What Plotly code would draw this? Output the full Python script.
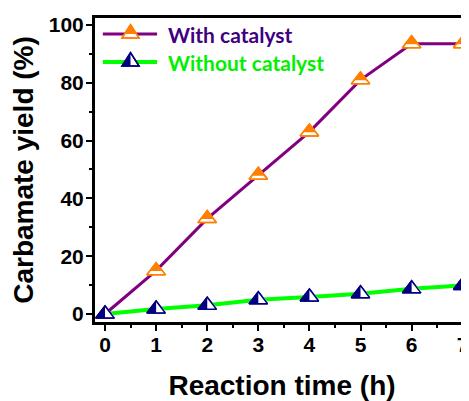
import plotly.graph_objects as go

# ---------------- data ----------------
reaction_time = [0, 1, 2, 3, 4, 5, 6, 7]
with_catalyst = [0, 15, 33, 48, 63, 81, 93.5, 93.5]
without_catalyst = [0, 1.7, 3.0, 4.9, 5.9, 7.0, 8.7, 9.9]
series_names = ["With catalyst", "Without catalyst"]
x_ticks = [0, 1, 2, 3, 4, 5, 6, 7]
y_ticks = [0, 20, 40, 60, 80, 100]

# ---------------- styles ----------------
PURPLE = "#800080"
ORANGE = "#FF8000"
GREEN = "#00FF00"
NAVY = "#000080"
S = 16.0            # marker size (plotly "diameter")
R = S / 2
LW = 1.5
BOLD = dict(family="Liberation Sans, Arial, sans-serif", color="black", weight="bold")

fig = go.Figure()

# --- With catalyst: purple line, triangles with orange top and white bottom band
fig.add_trace(go.Scatter(x=reaction_time, y=with_catalyst, mode="lines", name=series_names[0],
                         line=dict(color=PURPLE, width=3), showlegend=False, cliponaxis=False))
fig.add_trace(go.Scatter(x=reaction_time, y=with_catalyst, mode="markers", showlegend=False,
                         cliponaxis=False, hoverinfo="skip",
                         marker=dict(symbol="triangle-up", size=S, color="white",
                                     line=dict(color=ORANGE, width=LW))))
r_small = 0.7 * R
fig.add_trace(go.Scatter(x=reaction_time, y=with_catalyst, mode="markers", showlegend=False,
                         cliponaxis=False, hoverinfo="skip",
                         marker=dict(symbol="triangle-down", angle=180, standoff=R - r_small,
                                     size=2 * r_small, color=ORANGE, line=dict(width=0))))
fig.add_trace(go.Scatter(x=reaction_time, y=with_catalyst, mode="markers", showlegend=False,
                         cliponaxis=False, hoverinfo="skip",
                         marker=dict(symbol="triangle-up-open", size=S, color=ORANGE,
                                     line=dict(width=LW))))

# --- Without catalyst: green line, triangles with navy left half
fig.add_trace(go.Scatter(x=reaction_time, y=without_catalyst, mode="lines", name=series_names[1],
                         line=dict(color=GREEN, width=4), showlegend=False, cliponaxis=False))
fig.add_trace(go.Scatter(x=reaction_time, y=without_catalyst, mode="markers", showlegend=False,
                         cliponaxis=False, hoverinfo="skip",
                         marker=dict(symbol="triangle-up", size=S, color=NAVY,
                                     line=dict(color=NAVY, width=LW))))
r_cov = 1.4 * R / 1.8
fig.add_trace(go.Scatter(x=reaction_time, y=without_catalyst, mode="markers", showlegend=False,
                         cliponaxis=False, hoverinfo="skip",
                         marker=dict(symbol="triangle-nw", angle=-90, standoff=0.6 * r_cov,
                                     size=2 * r_cov, color="white", line=dict(width=0))))
fig.add_trace(go.Scatter(x=reaction_time, y=without_catalyst, mode="markers", showlegend=False,
                         cliponaxis=False, hoverinfo="skip",
                         marker=dict(symbol="triangle-up-open", size=S, color=NAVY,
                                     line=dict(width=LW))))

# ---------------- manual legend (paper coords of plot area) ----------------
leg_y = [0.947, 0.855]
leg_x0, leg_x1, leg_xm, leg_tx = 0.021, 0.166, 0.095, 0.19
line_colors = [PURPLE, GREEN]
line_widths = [3, 4]
text_colors = ["#400080", "#00F000"]
tri = "M -8.5,-4 L 8.5,-4 L 0,9.5 Z"
fills = ["M 0,9.5 L -6,0 L 6,0 Z", "M 0,9.5 L -8.5,-4 L 0,-4 Z"]
edge_colors = [ORANGE, NAVY]
for i in range(2):
    fig.add_shape(type="line", xref="paper", yref="paper", x0=leg_x0, x1=leg_x1,
                  y0=leg_y[i], y1=leg_y[i], line=dict(color=line_colors[i], width=line_widths[i]))
    fig.add_shape(type="path", xref="paper", yref="paper", xsizemode="pixel", ysizemode="pixel",
                  xanchor=leg_xm, yanchor=leg_y[i], path=tri, fillcolor="white",
                  line=dict(color=edge_colors[i], width=LW))
    fig.add_shape(type="path", xref="paper", yref="paper", xsizemode="pixel", ysizemode="pixel",
                  xanchor=leg_xm, yanchor=leg_y[i], path=fills[i], fillcolor=edge_colors[i],
                  line=dict(width=0))
    fig.add_shape(type="path", xref="paper", yref="paper", xsizemode="pixel", ysizemode="pixel",
                  xanchor=leg_xm, yanchor=leg_y[i], path=tri, fillcolor="rgba(0,0,0,0)",
                  line=dict(color=edge_colors[i], width=LW))
    fig.add_annotation(x=leg_tx, y=leg_y[i], xref="paper", yref="paper", xanchor="left",
                       yanchor="middle", showarrow=False, text=series_names[i],
                       font=dict(family="Lato, Open Sans, sans-serif", size=21,
                                 color=text_colors[i], weight="bold"))

# page body has an 8px margin: figure is sized/offset to compensate
fig.update_layout(
    width=461, height=393,
    margin=dict(l=87, r=0, t=10, b=79, autoexpand=False),
    plot_bgcolor="white", paper_bgcolor="white",
    showlegend=False,
    xaxis=dict(range=[-0.196, 7.123], tickvals=x_ticks, ticktext=[str(v) for v in x_ticks],
               showline=True, linecolor="black", linewidth=3, mirror=True,
               ticks="outside", ticklen=6, tickwidth=2, tickcolor="black",
               minor=dict(dtick=0.5, ticks="outside", ticklen=3, tickwidth=2, tickcolor="black",
                          showgrid=False),
               showgrid=False, zeroline=False, automargin=False, ticklabelstandoff=-4,
               tickfont=dict(size=21, **BOLD),
               title=dict(text="Reaction time (h)", font=dict(size=28, **BOLD), standoff=22)),
    yaxis=dict(range=[-2.77, 102.4], tickvals=y_ticks, ticktext=[str(v) for v in y_ticks],
               showline=True, linecolor="black", linewidth=3, mirror=False,
               ticks="outside", ticklen=6, tickwidth=2, tickcolor="black",
               minor=dict(dtick=10, ticks="outside", ticklen=3, tickwidth=2, tickcolor="black",
                          showgrid=False),
               showgrid=False, zeroline=False, automargin=False, ticklabelstandoff=-2,
               tickfont=dict(size=21, **BOLD),
               title=dict(text="Carbamate yield (%)", font=dict(size=28, **BOLD), standoff=12)),
)

fig.write_html("out.html")
